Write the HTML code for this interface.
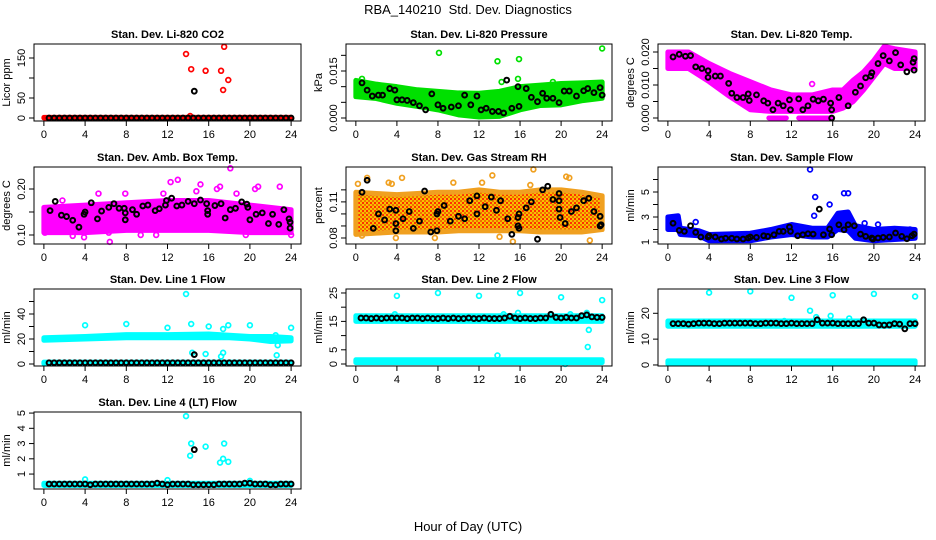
<!DOCTYPE html>
<html><head><meta charset="utf-8">
<style>
html,body{margin:0;padding:0;background:#fff;}
svg{display:block;font-family:"Liberation Sans",sans-serif;}
</style></head>
<body>
<svg id="chart" width="936" height="540" viewBox="0 0 936 540" xmlns="http://www.w3.org/2000/svg">
<defs>
<pattern id="rhpat" width="4" height="4" patternUnits="userSpaceOnUse">
<rect width="4" height="4" fill="#f8c000"/>
<rect width="2" height="2" fill="#f07000"/>
<rect x="2" y="2" width="2" height="2" fill="#ff3000"/>
</pattern>
</defs>
<text x="468" y="14" text-anchor="middle" font-size="13" style="white-space:pre" xml:space="preserve">RBA_140210  Std. Dev. Diagnostics</text>
<text x="468" y="531" text-anchor="middle" font-size="13">Hour of Day (UTC)</text>
</svg>
<script>
// shared half-hour grid for black (hourly-average) markers
const HOURS = [0.5,1,1.5,2,2.5,3,3.5,4,4.5,5,5.5,6,6.5,7,7.5,8,8.5,9,9.5,10,10.5,11,11.5,12,12.5,13,13.5,14,14.5,15,15.5,16,16.5,17,17.5,18,18.5,19,19.5,20,20.5,21,21.5,22,22.5,23,23.5,24];
const X_TICKS = [0,4,8,12,16,20,24];

// Panel 1: CO2
const co2BandH = [0,24], co2BandLo = [0,0], co2BandHi = [1.5,1.5];
const co2OutX = [13.8,14.3,15.7,17.2,17.5,17.9,17.4,14.2];
const co2OutY = [160,122,118,118,178,95,70,5];
const co2BlkX = HOURS.concat([14.6]);
const co2BlkY = [0,0,0,0,0,0,0,0,0,0,0,0,0,0,0,0,0,0,0,0,0,0,0,0,0,0,0,0,0,0,0,0,0,0,0,0,0,0,0,0,0,0,0,0,0,0,0,0,67];

// Panel 2: Pressure
const prsBandH = [0,2,4,6,8,10,12,14,16,18,20,22,24];
const prsBandLo = [0.0068,0.0062,0.0047,0.0037,0.0026,0.0010,0.0003,0.0005,0.0026,0.0040,0.0042,0.0055,0.0063];
const prsBandHi = [0.0120,0.0108,0.0100,0.0090,0.0085,0.0080,0.0079,0.0085,0.0100,0.0105,0.0110,0.0112,0.0115];
const prsOutX = [8.1,13.8,15.9,24,19.2,15.8,14.2,0.6];
const prsOutY = [0.0208,0.0181,0.0188,0.0222,0.0115,0.0125,0.0115,0.0125];
const prsBlkX = [0.6,1.1,1.6,2.2,2.6,3.3,3.8,4,4.5,5,5.6,6.2,6.8,7.4,8,8.5,9.3,10,10.6,11.2,11.8,12.2,12.7,13.3,13.9,14.4,14.7,15.2,15.8,15.9,16.6,17.1,17.7,18.2,18.6,19.2,19.8,20.3,20.8,21.5,22.2,22.6,23.2,23.8,24];
const prsBlkY = [0.0112,0.0089,0.0070,0.0073,0.0073,0.0094,0.0089,0.0058,0.0058,0.0056,0.0049,0.0039,0.0026,0.0077,0.0042,0.0031,0.0035,0.0039,0.0073,0.0042,0.0070,0.0026,0.0031,0.0021,0.0021,0.0016,0.0121,0.0031,0.0100,0.0037,0.0094,0.0066,0.0052,0.0079,0.0063,0.0063,0.0049,0.0086,0.0086,0.0070,0.0087,0.0094,0.0081,0.0097,0.0073];

// Panel 3: Li-820 Temp
const tmpBandH = [0,2,4,6,8,10,12,14,16,17,18,19,20,21,22,24];
const tmpBandLo = [0.015,0.015,0.011,0.0065,0.0025,0.002,0.002,0.002,0.002,0.003,0.005,0.0085,0.0125,0.0165,0.015,0.015];
const tmpBandHi = [0.020,0.020,0.0165,0.0135,0.011,0.0085,0.007,0.007,0.0085,0.0085,0.0115,0.014,0.0175,0.0217,0.021,0.020];
const tmpZeroH = [9.8,11.5,12.7,16], tmpZeroV = [0,0,0,0];
const tmpOutX = [14];
const tmpOutY = [0.0103];
const tmpBlkX = [0.5,1.1,1.7,2.2,2.7,3.3,3.9,3.9,4.6,5.1,5.9,6.2,6.7,7.3,7.8,7.9,8.6,9.3,9.7,10.2,10.7,11.2,11.8,11.9,12.7,13.1,13.6,14.1,14.6,15.1,15.8,15.9,15.9,16.6,17.5,18.2,18.7,19.2,19.7,19.8,20.4,20.9,21.5,22.1,22.6,23.2,23.8,23.9,23.9];
const tmpBlkY = [0.0185,0.0193,0.0187,0.0189,0.0155,0.015,0.0143,0.0123,0.0127,0.0127,0.0105,0.0075,0.0062,0.0062,0.0073,0.0053,0.007,0.0052,0.0045,0.0025,0.0045,0.0037,0.0055,0.0025,0.0058,0.0025,0.0037,0.0057,0.0052,0.0057,0.0045,0.0025,0,0.0062,0.0037,0.0078,0.0097,0.0122,0.0127,0.0137,0.0165,0.0189,0.0173,0.0198,0.0161,0.014,0.0169,0.018,0.0145];

// Panel 4: Amb Box Temp
const ambBandH = [0,4,8,12,16,20,24];
const ambBandLo = [0.105,0.105,0.11,0.11,0.11,0.105,0.105];
const ambBandHi = [0.16,0.165,0.17,0.175,0.175,0.165,0.155];
const ambOutX = [18.1,12.3,13,15.2,17.1,22.9,20.5,20.8,11.6,7.9,5.3,3.9,6.4,6.3,16.8,14.8,18.7,1.8,10.9,24,0.1,2.8,9.4,19.6];
const ambOutY = [0.245,0.215,0.22,0.21,0.205,0.205,0.2,0.205,0.19,0.19,0.19,0.095,0.085,0.105,0.2,0.195,0.19,0.175,0.1,0.1,0.105,0.098,0.1,0.1];
const ambBlkX = [0.6,1.1,1.7,2.2,2.8,3.4,3.9,4,4.6,5.2,5.6,6.3,6.8,7.3,7.8,7.9,7.9,8.6,9,9.6,10.1,10.8,11.2,11.8,11.9,12.4,12.9,13.4,14,14.6,15.2,15.8,15.9,15.9,16.6,17.2,17.6,18.1,18.6,19.2,19.7,19.8,20,20.6,21.2,21.8,22.2,22.8,23.3,23.8,23.9,23.9];
const ambBlkY = [0.153,0.173,0.143,0.14,0.132,0.117,0.145,0.15,0.17,0.135,0.152,0.16,0.168,0.158,0.158,0.148,0.133,0.155,0.145,0.163,0.165,0.153,0.157,0.165,0.175,0.18,0.163,0.165,0.173,0.168,0.176,0.168,0.153,0.145,0.164,0.168,0.137,0.155,0.158,0.172,0.167,0.16,0.133,0.145,0.148,0.125,0.145,0.123,0.155,0.135,0.128,0.115];

// Panel 5: Gas Stream RH
const rhBandH = [0,2,4,6,8,10,12,14,16,18,20,22,24];
const rhBandLo = [0.083,0.084,0.085,0.085,0.085,0.086,0.086,0.086,0.086,0.085,0.085,0.085,0.087];
const rhBandHi = [0.118,0.117,0.116,0.117,0.118,0.118,0.12,0.118,0.118,0.12,0.12,0.118,0.115];
const rhOutX = [1.1,3.2,3.5,4.5,13.3,17.3,20.5,20.8,15.3,22.8,0.6,3.9,7.7,17,12.3,0.2,9.5,14];
const rhOutY = [0.13,0.126,0.125,0.13,0.132,0.137,0.131,0.13,0.077,0.078,0.082,0.08,0.08,0.124,0.126,0.125,0.126,0.081];
const rhBlkX = [0.6,1.1,1.7,2.2,2.8,3.3,3.9,3.9,3.9,4.6,5.2,5.6,6.2,6.7,7.3,7.9,7.9,8,8.6,9.2,10,10.6,11.1,11.8,11.8,12.6,13.2,13.7,14.1,14.8,15.2,15.8,15.8,15.9,15.9,16.6,17.1,17.7,18.2,18.7,19.2,19.8,19.8,19.8,19.9,20.4,21,21.5,22.2,22.7,23.2,23.8,23.8,23.9];
const rhBlkY = [0.118,0.128,0.088,0.1,0.095,0.104,0.103,0.092,0.086,0.096,0.102,0.088,0.094,0.119,0.085,0.086,0.1,0.102,0.107,0.094,0.098,0.096,0.111,0.115,0.1,0.106,0.114,0.103,0.111,0.096,0.083,0.097,0.09,0.088,0.1,0.105,0.11,0.079,0.12,0.123,0.112,0.117,0.111,0.104,0.097,0.092,0.102,0.105,0.111,0.113,0.102,0.098,0.09,0.091];

// Panel 6: Sample Flow
const sfBandH = [0,1,1.2,3,4,8,10,12,14,15.5,16.5,17.5,18.2,20,22,24];
const sfBandLo = [2.0,2.0,1.6,1.5,1.1,1.1,1.4,1.6,1.4,1.4,2.0,1.9,1.3,1.1,1.2,1.3];
const sfBandHi = [3.0,3.1,2.1,1.9,1.6,1.7,2.0,2.4,2.1,2.1,3.3,3.4,2.3,2.0,2.1,2.0];
const sfOutX = [13.8,14.3,17.1,17.5,15.7,14.2,2.7,20.4,19.1,23.5];
const sfOutY = [6.8,4.6,4.9,4.9,4.0,3.1,2.6,2.4,2.5,2.0];
const sfBlkX = [0.5,1.1,1.6,2.2,2.7,3.2,3.9,4,4.6,5.2,5.6,6.2,6.7,7.3,7.8,8,8.6,9.3,9.7,10.3,10.8,11.2,11.8,11.9,12.6,13.1,13.6,14.1,14.7,15.1,15.7,15.9,16.6,17.1,17.5,18.1,18.7,19.2,19.8,19.9,20.4,20.9,21.5,22.1,22.7,23.2,23.7,23.9];
const sfBlkY = [2.5,1.93,1.85,2.3,1.77,1.4,1.4,1.5,1.4,1.24,1.3,1.3,1.24,1.24,1.32,1.4,1.37,1.5,1.45,1.58,1.85,1.85,2.2,1.85,1.5,1.58,1.66,1.63,3.63,1.58,2.04,1.58,2.38,1.98,2.38,2.3,1.63,1.45,1.32,1.24,1.32,1.37,1.4,1.72,1.45,1.26,1.5,1.63];

// Panel 7: Line 1 Flow
const l1BandH = [0,4,8,12,16,18,20,22,24];
const l1BandLo = [19,20,21,21,21,21,20,18,18.5];
const l1BandHi = [21,22,23.5,23.5,24,23,22,22,21];
const l1LowH = [0,24], l1LowLo = [0.3,0.3], l1LowHi = [1.5,1.5];
const l1OutX = [4,8,12,13.8,14.3,16,20,24,14.4,15.7,17.2,17.4,17.4,17.9,22.6,22.7,22.5];
const l1OutY = [31,32,29,56,32,30,31,29,9,8,6,9,28,31,7,15,23];
const l1BlkX = HOURS.concat([14.6]);
const l1BlkY = [1,1,1,1,1,1,1,1,1,1,1,1,1,1,1,1,1,1,1,1,1,1,1,1,1,1,1,1,1,1,1,1,1,1,1,1,1,1,1,1,1,1,1,1,1,1,1,1,7.5];

// Panel 8: Line 2 Flow
const l2BandH = [0,24], l2BandLo = [15,15], l2BandHi = [17,17];
const l2LowH = [0,24], l2LowLo = [0.5,0.5], l2LowHi = [1.5,1.5];
const l2OutX = [4,8,12,16,20,24,13.8,22.6,22.7,15.8,3.8,20.9,22.5,14.4,20.4];
const l2OutY = [24,25,24,25,23.5,22.5,3,6,12,18,17.5,17.5,18,17.5,0];
const l2BlkX = HOURS;
const l2BlkY = [16.2,16.2,16,16.2,16,16.2,16.2,16.2,16.2,16,16.2,16.2,16,16.2,16,16,16.2,16,16.2,16,16,16.2,16,16,16.2,16,16,16,16.2,16.8,16.2,16,16.2,16,16,16.2,16.2,17.5,16.4,16.2,16.4,16.2,16.2,17,17.3,16.6,16.4,16.4];

// Panel 9: Line 3 Flow
const l3BandH = [0,24], l3BandLo = [15,15], l3BandHi = [17,17];
const l3LowH = [0,24], l3LowLo = [0.4,0.4], l3LowHi = [1.6,1.6];
const l3OutX = [4,8,12,16,20,24,13.8,14.4,15.8,17.6,11.3];
const l3OutY = [28,28.5,26,27,27.5,26.5,21,18.5,19,18,17];
const l3BlkX = HOURS;
const l3BlkY = [16,16,16,15.8,16,16.2,16.2,16.2,16,16,16.2,16.2,16.2,16.2,16.2,16.2,16,16,16.2,16.2,16.2,16,16,16.2,16,16,16,16,17.5,16.2,16.2,16.2,16,16,16,16,16,17.5,16.2,16.2,15.5,15.4,15.5,16,15.8,14,16,16];

// Panel 10: Line 4 (LT) Flow
const l4BandH = [0,24], l4BandLo = [0.25,0.25], l4BandHi = [0.4,0.4];
const l4OutX = [13.8,14.3,14.2,15.7,17.5,17.4,17.9,17.1,4,12,20];
const l4OutY = [4.8,3.0,2.2,2.8,3.0,2.0,1.8,1.75,0.65,0.6,0.55];
const l4BlkX = HOURS.concat([14.6]);
const l4BlkY = [0.35,0.35,0.35,0.35,0.35,0.35,0.35,0.35,0.3,0.35,0.35,0.35,0.35,0.35,0.35,0.35,0.35,0.35,0.35,0.35,0.35,0.4,0.35,0.3,0.35,0.35,0.35,0.35,0.3,0.3,0.3,0.3,0.3,0.35,0.35,0.35,0.35,0.35,0.4,0.4,0.35,0.35,0.35,0.3,0.3,0.35,0.35,0.35,2.6];

const COLS = [[34,301],[346,612],[658,925]];
const ROWS = [[44,121],[167,244],[289,366],[412,489]];

const panels = [
 {name:'co2',title:'Stan. Dev. Li-820 CO2',ylab:'Licor ppm',c:0,r:0,ymin:-7.5,ymax:185,ticks:[0,50,100,150],labs:['0','50','','150'],color:'#ff0000',
  bands:[[co2BandH,co2BandLo,co2BandHi]],ox:co2OutX,oy:co2OutY,bx:co2BlkX,by:co2BlkY},
 {name:'pressure',title:'Stan. Dev. Li-820 Pressure',ylab:'kPa',c:1,r:0,ymin:-0.00096,ymax:0.02362,ticks:[0,0.005,0.01,0.015,0.02],labs:['0.000','','','0.015',''],color:'#00e000',
  bands:[[prsBandH,prsBandLo,prsBandHi]],ox:prsOutX,oy:prsOutY,bx:prsBlkX,by:prsBlkY},
 {name:'li820-temp',title:'Stan. Dev. Li-820 Temp.',ylab:'degrees C',c:2,r:0,ymin:-0.00091,ymax:0.02242,ticks:[0,0.005,0.01,0.015,0.02],labs:['0.000','','0.010','','0.020'],color:'#ff00ff',
  bands:[[tmpBandH,tmpBandLo,tmpBandHi],[tmpZeroH.slice(0,2),tmpZeroV.slice(0,2),tmpZeroV.slice(0,2)],[tmpZeroH.slice(2),tmpZeroV.slice(2),tmpZeroV.slice(2)]],ox:tmpOutX,oy:tmpOutY,bx:tmpBlkX,by:tmpBlkY},
 {name:'amb-box-temp',title:'Stan. Dev. Amb. Box Temp.',ylab:'degrees C',c:0,r:1,ymin:0.0804,ymax:0.2478,ticks:[0.1,0.15,0.2],labs:['0.10','','0.20'],color:'#ff00ff',
  bands:[[ambBandH,ambBandLo,ambBandHi]],ox:ambOutX,oy:ambOutY,bx:ambBlkX,by:ambBlkY},
 {name:'gas-stream-rh',title:'Stan. Dev. Gas Stream RH',ylab:'percent',c:1,r:1,ymin:0.075,ymax:0.139,ticks:[0.08,0.09,0.1,0.11,0.12],labs:['0.08','','','0.11',''],color:'#f0a020',fill:'url(#rhpat)',
  bands:[[rhBandH,rhBandLo,rhBandHi]],ox:rhOutX,oy:rhOutY,bx:rhBlkX,by:rhBlkY},
 {name:'sample-flow',title:'Stan. Dev. Sample Flow',ylab:'ml/min',c:2,r:1,ymin:0.84,ymax:7.0,ticks:[1,2,3,4,5,6],labs:['1','','3','','5',''],color:'#0000ff',
  bands:[[sfBandH,sfBandLo,sfBandHi]],ox:sfOutX,oy:sfOutY,bx:sfBlkX,by:sfBlkY},
 {name:'line1-flow',title:'Stan. Dev. Line 1 Flow',ylab:'ml/min',c:0,r:2,ymin:-1.6,ymax:60,ticks:[0,10,20,30,40,50],labs:['0','','20','','40',''],color:'#00ffff',
  bands:[[l1BandH,l1BandLo,l1BandHi],[l1LowH,l1LowLo,l1LowHi]],ox:l1OutX,oy:l1OutY,bx:l1BlkX,by:l1BlkY},
 {name:'line2-flow',title:'Stan. Dev. Line 2 Flow',ylab:'ml/min',c:1,r:2,ymin:-0.7,ymax:26.4,ticks:[0,5,10,15,20,25],labs:['0','5','','15','','25'],color:'#00ffff',
  bands:[[l2BandH,l2BandLo,l2BandHi],[l2LowH,l2LowLo,l2LowHi]],ox:l2OutX,oy:l2OutY,bx:l2BlkX,by:l2BlkY},
 {name:'line3-flow',title:'Stan. Dev. Line 3 Flow',ylab:'ml/min',c:2,r:2,ymin:-0.4,ymax:29.4,ticks:[0,10,20],labs:['0','10','20'],color:'#00ffff',
  bands:[[l3BandH,l3BandLo,l3BandHi],[l3LowH,l3LowLo,l3LowHi]],ox:l3OutX,oy:l3OutY,bx:l3BlkX,by:l3BlkY},
 {name:'line4-flow',title:'Stan. Dev. Line 4 (LT) Flow',ylab:'ml/min',c:0,r:3,ymin:0.02,ymax:5.07,ticks:[1,2,3,4,5],labs:['1','2','3','4','5'],color:'#00ffff',
  bands:[[l4BandH,l4BandLo,l4BandHi]],ox:l4OutX,oy:l4OutY,bx:l4BlkX,by:l4BlkY}
];

const svg = document.getElementById('chart');
const NS = 'http://www.w3.org/2000/svg';
function mk(tag, attrs, parent){
  const e = document.createElementNS(NS, tag);
  for (const k in attrs) e.setAttribute(k, attrs[k]);
  (parent||svg).appendChild(e);
  return e;
}
panels.forEach(p => {
  const [x0,x1] = COLS[p.c], [y0,y1] = ROWS[p.r];
  const XMIN=-0.96, XMAX=24.96;
  const sx = v => x0 + (v - XMIN) / (XMAX - XMIN) * (x1 - x0);
  const sy = v => y1 - (v - p.ymin) / (p.ymax - p.ymin) * (y1 - y0);
  const g = mk('g', {});
  
  
  const t = mk('text', {x:(x0+x1)/2, y:y0-6, 'text-anchor':'middle', 'font-size':'11', 'font-weight':'bold'}, g);
  
  
  t.textContent = p.title;
  const yl = mk('text', {transform:`translate(${x0-24},${(y0+y1)/2}) rotate(-90)`, 'text-anchor':'middle', 'font-size':'11'}, g);
  
  
  yl.textContent = p.ylab;
  p.bands.forEach(b => {
    const [h, lo, hi] = b;
    const pts = [];
    for (let i=0;i<h.length;i++) pts.push(sx(h[i])+','+sy(hi[i]));
    for (let i=h.length-1;i>=0;i--) pts.push(sx(h[i])+','+sy(lo[i]));
    const pg = mk('polygon', {points:pts.join(' '), fill:p.fill||p.color, stroke:p.color, 'stroke-width':5, 'stroke-linejoin':'round'}, g);
    
    
  });
  p.ox.forEach((v,i) => {
    const c = mk('circle', {cx:sx(v), cy:sy(p.oy[i]), r:2.4, fill:'none', stroke:p.color, 'stroke-width':1.7}, g);
    
    
  });
  p.bx.forEach((v,i) => {
    const c = mk('circle', {cx:sx(v), cy:sy(p.by[i]), r:2.4, fill:'none', stroke:'#000', 'stroke-width':2}, g);
    
    
  });
  const box = mk('rect', {x:x0, y:y0, width:x1-x0, height:y1-y0, fill:'none', stroke:'#000', 'stroke-width':1}, g);
  
  
  X_TICKS.forEach(v => {
    mk('line', {x1:sx(v), x2:sx(v), y1:y1, y2:y1+5, stroke:'#000'}, g);
    const tl = mk('text', {x:sx(v), y:y1+17, 'text-anchor':'middle', 'font-size':'11'}, g);
    
    
    tl.textContent = v;
  });
  p.ticks.forEach((v,i) => {
    mk('line', {x1:x0-5, x2:x0, y1:sy(v), y2:sy(v), stroke:'#000'}, g);
    if (p.labs[i]) {
      const tl = mk('text', {transform:`translate(${x0-9},${sy(v)}) rotate(-90)`, 'text-anchor':'middle', 'font-size':'11'}, g);
      
      
      tl.textContent = p.labs[i];
    }
  });
});
</script>
</body></html>
